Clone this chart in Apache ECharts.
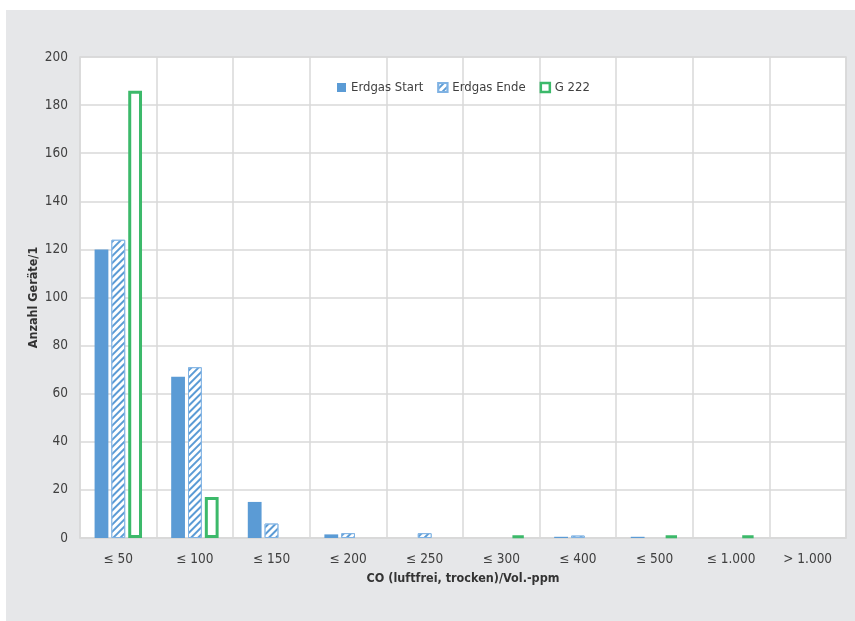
<!DOCTYPE html>
<html>
<head>
<meta charset="utf-8">
<script src="https://cdn.jsdelivr.net/npm/echarts@6/dist/echarts.min.js"></script>
<style>
html,body{margin:0;padding:0;background:#fff;width:855px;height:621px;overflow:hidden;}
#c{position:absolute;left:6px;top:10px;width:849px;height:611px;}
</style>
</head>
<body>
<div id="c"></div>
<script>
const categories = ['≤ 50','≤ 100','≤ 150','≤ 200','≤ 250','≤ 300','≤ 400','≤ 500','≤ 1.000','> 1.000'];
const erdgasStart = [120, 67, 15, 1.5, 0, 0, 0.5, 0.5, 0, 0];
const erdgasEnde  = [124, 71, 6, 2, 2, 0, 1, 0, 0, 0];
const g222        = [186, 17, 0, 0, 0, 1, 0, 1, 1, 0];
const seriesNames = ['Erdgas Start','Erdgas Ende','G 222'];

const FONT = '"DejaVu Sans Condensed", Roboto, sans-serif';
const BLUE = '#5b9bd5';
const GREEN = '#3cb96a';
const noZero = arr => arr.map(v => (v === 0 ? '-' : v));

const chart = echarts.init(document.getElementById('c'));
chart.setOption({
  backgroundColor: '#e6e7e9',
  animation: false,
  textStyle: {fontFamily: FONT},
  legend: {
    top: 66,
    left: 326,
    itemWidth: 9,
    itemHeight: 9,
    itemGap: 14,
    textStyle: {fontFamily: FONT, fontSize: 13, color: '#404040'},
    data: [
      {name: seriesNames[0], icon: 'rect', itemStyle: {color: BLUE, borderWidth: 0}},
      {name: seriesNames[1], icon: 'rect'},
      {name: seriesNames[2], icon: 'rect', itemStyle: {color: '#fff', borderColor: GREEN, borderWidth: 2.5}}
    ]
  },
  grid: {
    left: 74, top: 47, right: 9, bottom: 83,
    show: true, backgroundColor: '#fff', borderColor: '#d9d9d9', borderWidth: 1.5
  },
  xAxis: {
    type: 'category',
    data: categories,
    name: 'CO (luftfrei, trocken)/Vol.-ppm',
    nameLocation: 'middle',
    nameGap: 34,
    nameTextStyle: {fontFamily: FONT, fontSize: 12.5, fontWeight: 'bold', color: '#333'},
    axisLine: {show: true, lineStyle: {color: '#d9d9d9', width: 1.5}},
    axisTick: {show: false},
    axisLabel: {fontFamily: FONT, fontSize: 13.5, color: '#404040', margin: 14, interval: 0},
    splitLine: {show: true, interval: 0, lineStyle: {color: '#d9d9d9', width: 1.5}}
  },
  yAxis: {
    type: 'value',
    min: 0, max: 200, interval: 20,
    name: 'Anzahl Geräte/1',
    nameLocation: 'middle',
    nameGap: 40,
    nameMoveOverlap: false,
    nameTextStyle: {fontFamily: FONT, fontSize: 12.5, fontWeight: 'bold', color: '#333'},
    axisLine: {show: false},
    axisTick: {show: false},
    axisLabel: {fontFamily: FONT, fontSize: 13.5, color: '#404040', margin: 12},
    splitLine: {show: true, lineStyle: {color: '#d9d9d9', width: 1.5}}
  },
  series: [
    {
      name: seriesNames[0], type: 'bar', data: noZero(erdgasStart),
      barWidth: '18%', barGap: '22%',
      itemStyle: {color: BLUE}
    },
    {
      name: seriesNames[1], type: 'bar', data: noZero(erdgasEnde),
      barWidth: '18%', barGap: '22%',
      itemStyle: {
        color: BLUE, borderColor: '#7fb2e3', borderWidth: 1,
        decal: {symbol: 'rect', dashArrayX: [1, 0], dashArrayY: [2.5, 2], rotation: -Math.PI / 4, color: '#ffffff', symbolSize: 1}
      }
    },
    {
      name: seriesNames[2], type: 'bar', data: noZero(g222),
      barWidth: '18%', barGap: '22%',
      itemStyle: {color: '#ffffff', borderColor: GREEN, borderWidth: 3}
    }
  ]
});
</script>
</body>
</html>
